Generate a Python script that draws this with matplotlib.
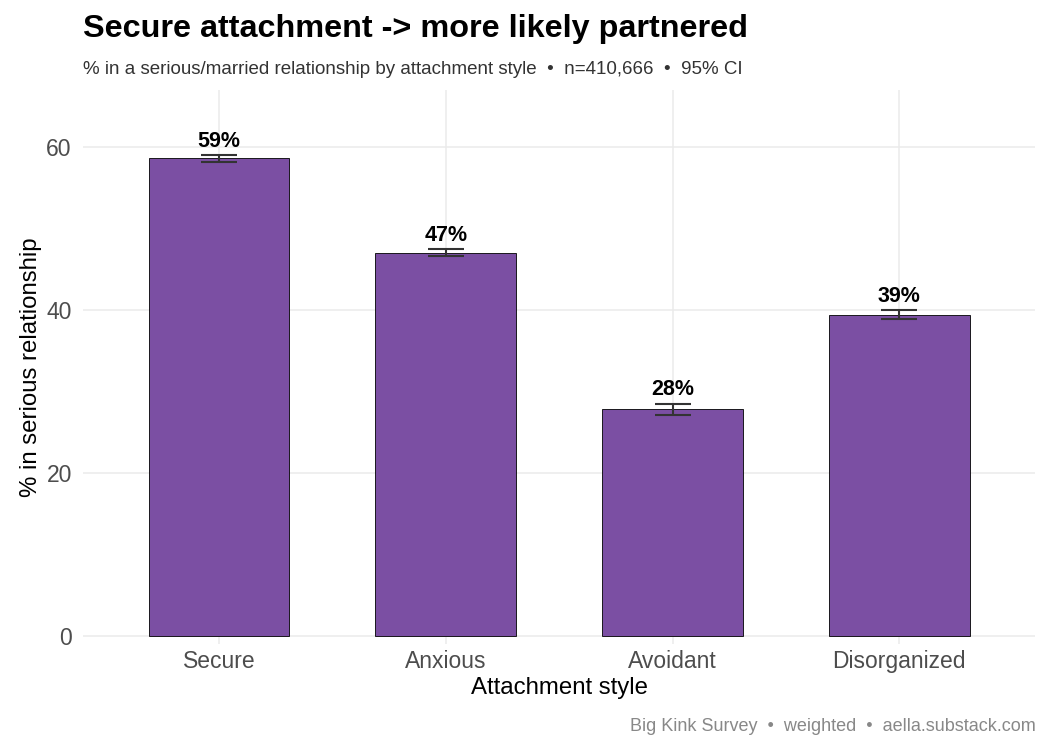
import matplotlib
matplotlib.use("Agg")
import matplotlib.pyplot as plt

# data
styles = ["Secure", "Anxious", "Avoidant", "Disorganized"]
pct = [58.6, 47.0, 27.8, 39.4]
ci_half = [0.45, 0.43, 0.72, 0.55]
labels = ["59%", "47%", "28%", "39%"]

plt.rcParams["font.family"] = ["Liberation Sans", "DejaVu Sans"]

fig = plt.figure(figsize=(10.5, 7.5), dpi=100)
ax = fig.add_axes([0.079, 0.1413, 0.907, 0.7387])

x = list(range(len(styles)))
ax.bar(x, pct, width=0.62, color="#7B4FA3", edgecolor="black", linewidth=0.6, zorder=2)
ax.errorbar(x, pct, yerr=ci_half, fmt="none", ecolor="#333333", elinewidth=1.5,
            capsize=13, capthick=1.5, zorder=3)

for xi, v, e, lab in zip(x, pct, ci_half, labels):
    ax.text(xi, v + e + 0.4, lab, ha="center", va="bottom", fontsize=15.5,
            fontweight="bold", color="black", zorder=4)

ax.set_xlim(-0.6, len(styles) - 0.4)
ax.set_ylim(-1.0, 67.0)
ax.set_xticks(x)
ax.set_xticklabels(styles)
ax.set_yticks([0, 20, 40, 60])

for s in ax.spines.values():
    s.set_visible(False)
ax.grid(True, color="#EBEBEB", linewidth=1.1, zorder=0)
ax.set_axisbelow(True)
ax.tick_params(axis="both", length=0, labelsize=16.5, colors="#4D4D4D")
ax.tick_params(axis="x", pad=4)
ax.tick_params(axis="y", pad=8)

ax.set_xlabel("Attachment style", fontsize=17.3, labelpad=3)
ax.set_ylabel("% in serious relationship", fontsize=17.3, labelpad=3)

fig.text(0.079, 0.961, "Secure attachment -> more likely partnered", fontsize=23.3,
         fontweight="bold", ha="left", va="center")
fig.text(0.079, 0.908, "% in a serious/married relationship by attachment style  \u2022  n=410,666  \u2022  95% CI",
         fontsize=13.5, color="#333333", ha="left", va="center")
fig.text(0.986, 0.031, "Big Kink Survey  \u2022  weighted  \u2022  aella.substack.com",
         fontsize=13, color="#888888", ha="right", va="center")

fig.savefig("out.png", dpi=100, facecolor="white")
